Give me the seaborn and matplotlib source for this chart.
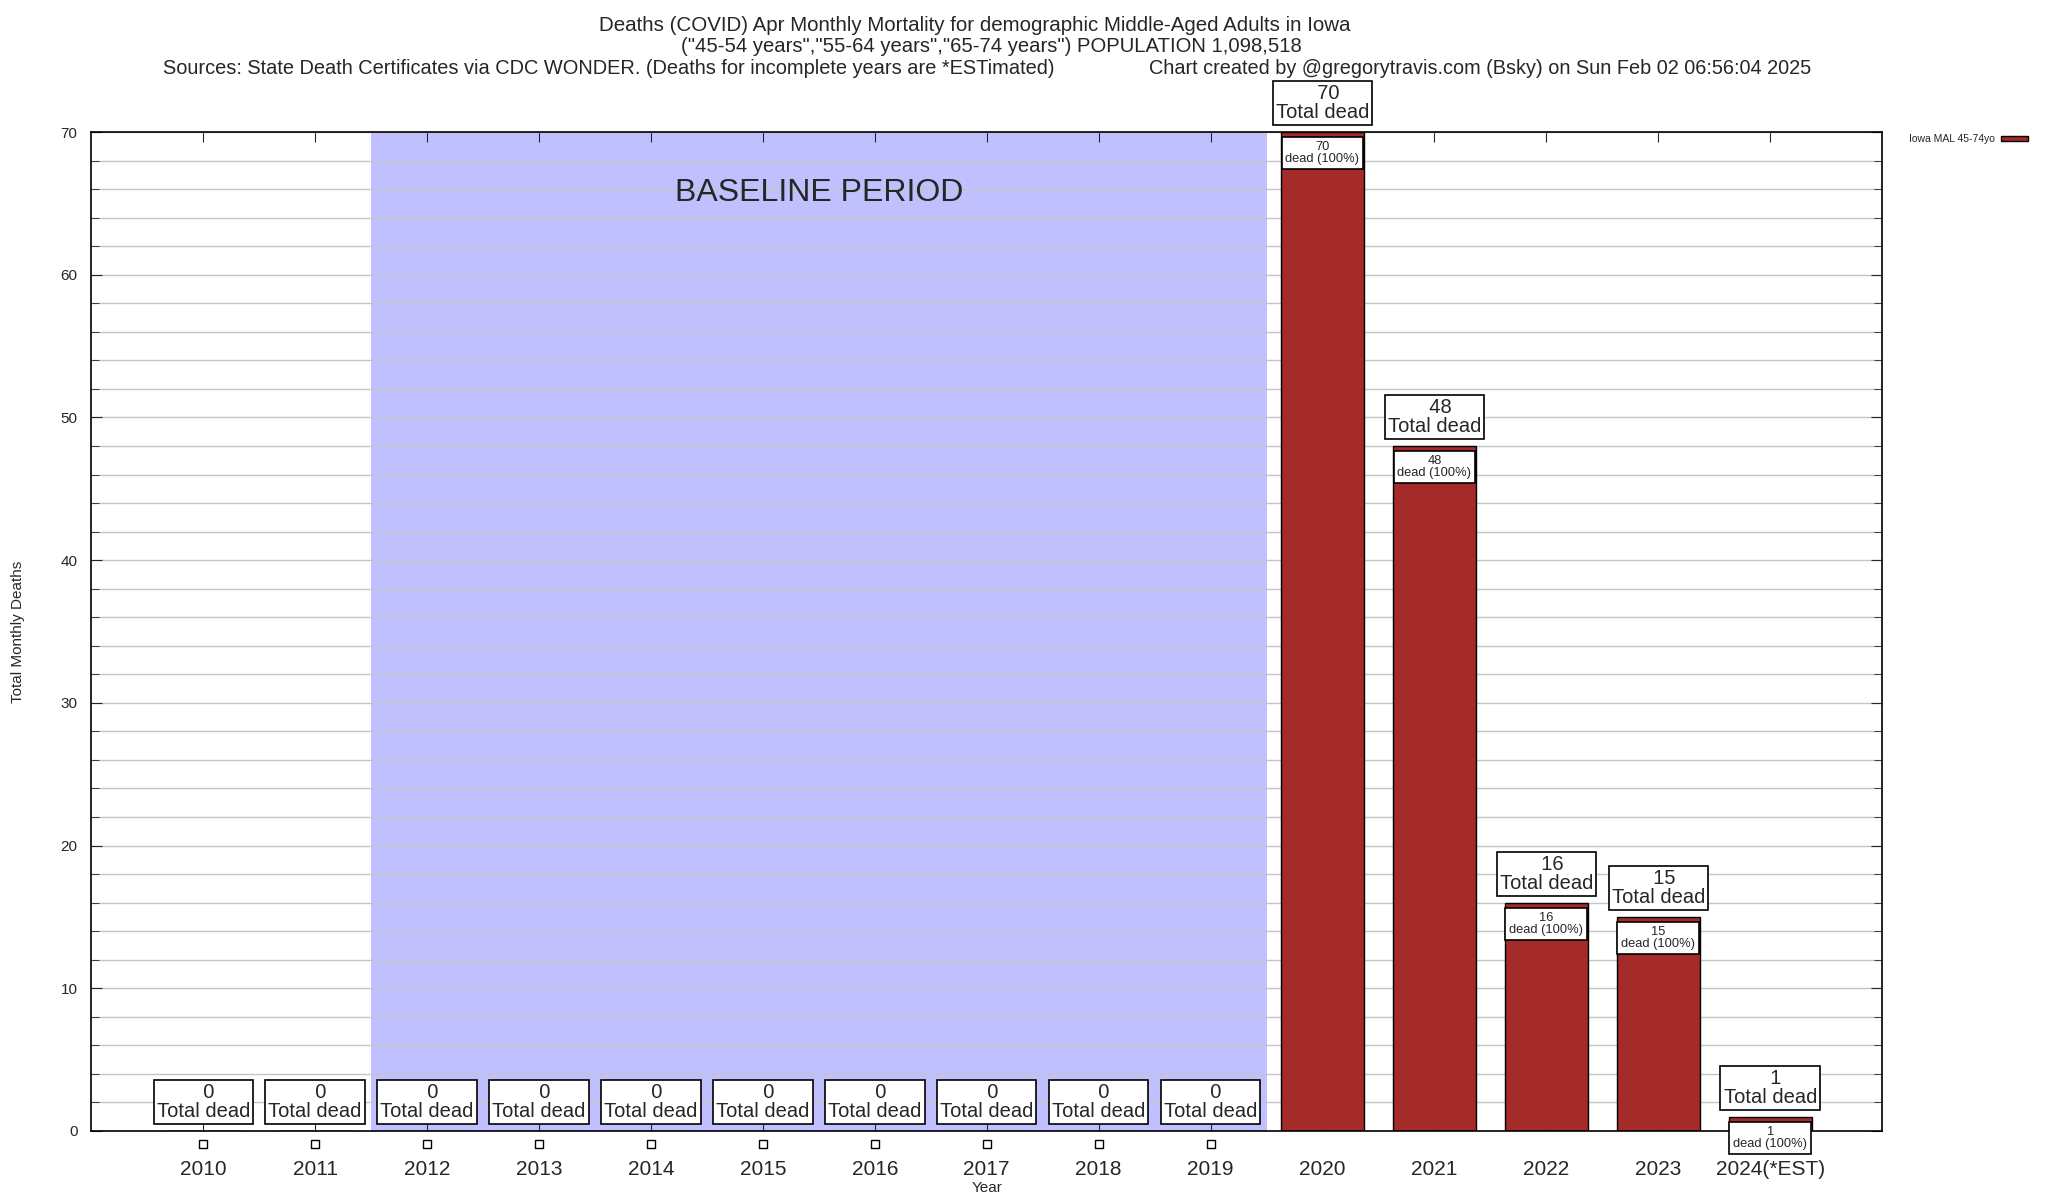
import pandas as pd
import numpy as np
import matplotlib.pyplot as plt
import seaborn as sns
from matplotlib.patches import Patch
from matplotlib.ticker import MultipleLocator

# data
years = ["2010", "2011", "2012", "2013", "2014", "2015", "2016", "2017",
         "2018", "2019", "2020", "2021", "2022", "2023", "2024(*EST)"]
deaths = [0, 0, 0, 0, 0, 0, 0, 0, 0, 0, 70, 48, 16, 15, 1]
baseline_first = "2012"
baseline_last = "2019"
series_name = "Iowa MAL 45-74yo"

df = pd.DataFrame({"year": years, "deaths": deaths})

sns.set_style("white")
plt.rcParams["font.family"] = ["Liberation Sans", "DejaVu Sans"]

bar_color = "#a52a2a"

fig = plt.figure(figsize=(20.48, 12), dpi=100)
ax = fig.add_axes([0.0446, 0.0575, 0.8744, 0.8325])

# baseline shading
ax.axvspan(years.index(baseline_first) - 0.5, years.index(baseline_last) + 0.5,
           color="#c0c0ff", zorder=0.2, lw=0)
ax.text((years.index(baseline_first) + years.index(baseline_last)) / 2, 65.7,
        "BASELINE PERIOD", fontsize=23, ha="center", va="center", zorder=3)

sns.barplot(data=df, x="year", y="deaths", color=bar_color, saturation=1,
            edgecolor="black", linewidth=1, width=0.74, ax=ax, zorder=2)

ax.set_xlim(-1, len(years))
ax.set_ylim(0, 70)

# grid every 2, labels every 10
ax.yaxis.set_major_locator(MultipleLocator(10))
ax.yaxis.set_minor_locator(MultipleLocator(2))
ax.set_axisbelow(True)
ax.grid(axis="y", which="both", color="#c4c4c4", lw=1, zorder=0.5)
ax.grid(axis="x", visible=False)

ax.tick_params(axis="y", which="both", direction="in", left=True, right=True,
               labelsize=11, pad=10)
ax.tick_params(axis="y", which="major", length=8)
ax.tick_params(axis="y", which="minor", length=6)
ax.tick_params(axis="x", direction="in", bottom=True, top=True, length=7,
               labelsize=15, pad=21)
for s in ax.spines.values():
    s.set_color("black")
    s.set_linewidth(1.2)

ax.set_xlabel("Year", fontsize=11, labelpad=1)
ax.set_ylabel("Total Monthly Deaths", fontsize=11)
ax.yaxis.set_label_coords(-0.037, 0.5)

# labels on each bar
for i, v in enumerate(deaths):
    ax.annotate(f"  {v}\nTotal dead", (i, v), xytext=(0, 7),
                textcoords="offset points", ha="center", va="bottom",
                fontsize=14.5, linespacing=1.0, annotation_clip=False, zorder=5,
                bbox=dict(boxstyle="square,pad=0.15", fc="white", ec="black", lw=1.2))
    if v > 0:
        ax.annotate(f"{v}\ndead (100%)", (i, v), xytext=(0, -6.5),
                    textcoords="offset points", ha="center", va="top",
                    fontsize=9.3, linespacing=1.0, annotation_clip=False, zorder=5,
                    bbox=dict(boxstyle="square,pad=0.3", fc="white", ec="black", lw=1.2))

# small hollow squares under zero-valued years
zero_idx = [i for i, v in enumerate(deaths) if v == 0]
ax.scatter(zero_idx, [-0.9] * len(zero_idx), marker="s", s=30, facecolor="white",
           edgecolor="black", linewidth=1, clip_on=False, zorder=5)

# legend outside on the right
ax.legend(handles=[Patch(facecolor=bar_color, edgecolor="black", label=series_name)],
          loc="upper left", bbox_to_anchor=(1.011, 1.005), frameon=False,
          markerfirst=False, handlelength=2.6, handleheight=0.35,
          handletextpad=0.6, borderaxespad=0.3, fontsize=7.5)

# titles
fig.text(0.476, 0.979, "Deaths (COVID) Apr Monthly Mortality for demographic Middle-Aged Adults in Iowa",
         ha="center", va="center", fontsize=14.8)
fig.text(0.484, 0.961, "(\"45-54 years\",\"55-64 years\",\"65-74 years\") POPULATION 1,098,518",
         ha="center", va="center", fontsize=14.6)
fig.text(0.0795, 0.943, "Sources: State Death Certificates via CDC WONDER. (Deaths for incomplete years are *ESTimated)",
         ha="left", va="center", fontsize=14.4)
fig.text(0.561, 0.943, "Chart created by @gregorytravis.com (Bsky) on Sun Feb 02 06:56:04 2025",
         ha="left", va="center", fontsize=14.3)

fig.savefig("out.png", dpi=100)
